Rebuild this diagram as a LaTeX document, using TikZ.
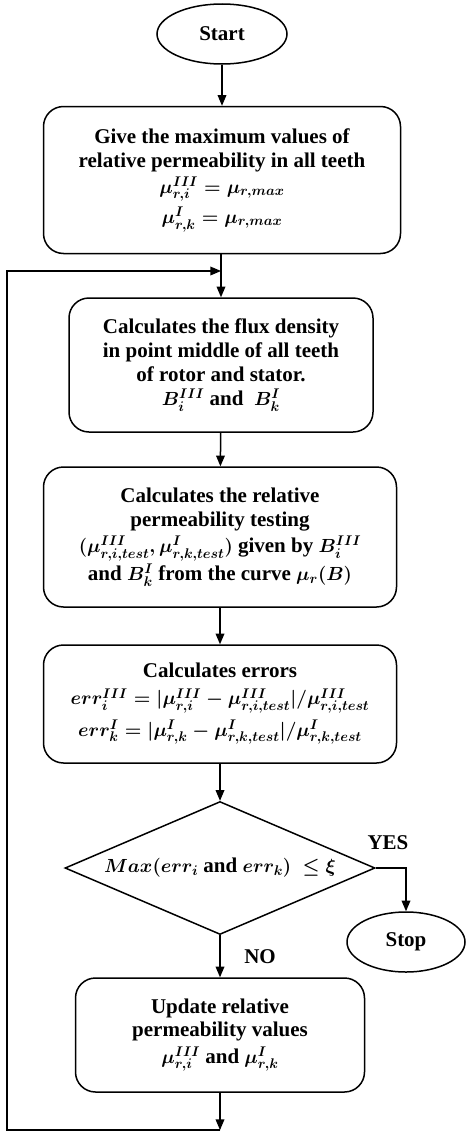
\RequirePackage{fix-cm}
\documentclass[tikz,border=0pt]{standalone}
\usepackage{fontspec}
\setmainfont{Liberation Serif}
\usepackage{amsmath}
\usepackage{tikz}
\usetikzlibrary{shapes,arrows,positioning,calc}
\DeclareMathSizes{21}{19}{14}{11}

\begin{document}
\begin{tikzpicture}[x=1pt, y=1pt, line width=1.5pt, >=triangle 45,
  font=\fontsize{21}{24}\selectfont\bfseries\boldmath]
  \tikzstyle{terminal} = [ellipse, draw, minimum width=130, minimum height=60, inner sep=0pt]
  \tikzstyle{process} = [rectangle, rounded corners=20pt, draw, align=center, inner sep=2pt]
  \tikzstyle{decision} = [diamond, draw, aspect=2.33, inner sep=0pt, minimum width=310, minimum height=133]
  \tikzstyle{answer} = [inner sep=0pt]

  \useasboundingbox (0,0) rectangle (466,-1135);

  \node[terminal] (start) at (222,-34) {Start};

  \node[process, minimum width=357, minimum height=147] (give) at (222,-180)
    {Give the maximum values of\\relative permeability in all teeth\\[2pt]
     $\mu_{r,i}^{III} = \mu_{r,max}$\\[4pt]$\mu_{r,k}^{I} = \mu_{r,max}$};

  \node[process, minimum width=304, minimum height=134] (flux) at (221,-365)
    {Calculates the flux density\\in point middle of all teeth\\of rotor and stator.\\
     $B_i^{III}$ and \ $B_k^{I}$};

  \node[process, minimum width=353, minimum height=140] (curve) at (220,-537)
    {Calculates the relative\\permeability testing\\[2pt]
     $(\mu_{r,i,test}^{III}, \mu_{r,k,test}^{I})$ given by $B_i^{III}$\\[2pt]
     and $B_k^{I}$ from the curve $\mu_r(B)$};

  \node[process, minimum width=353, minimum height=118] (err) at (220,-704)
    {Calculates errors\\[3pt]
     $err_i^{III} = |\mu_{r,i}^{III} - \mu_{r,i,test}^{III}|/\mu_{r,i,test}^{III}$\\[5pt]
     $err_k^{I} = |\mu_{r,k}^{I} - \mu_{r,k,test}^{I}|/\mu_{r,k,test}^{I}$};

  \node[decision] (check) at (220,-868)
    {$Max(err_i$ and $err_k)\ \le \xi$};

  \node[terminal, minimum width=118] (stop) at (406,-942) {Stop};

  \node[process, minimum width=289, minimum height=114] (update) at (220,-1035)
    {Update relative\\permeability values\\[2pt]
     $\mu_{r,i}^{III}$ and $\mu_{r,k}^{I}$};

  \node[answer] (yes) at (388,-843) {YES};
  \node[answer] (no) at (260,-957) {NO};

  \coordinate (join) at (221,-271);
  \coordinate (back) at (220,-1130);
  \coordinate (corner) at (7,-1130);

  \draw[->] (start) -- (give);
  \draw (give.south -| join) -- (join);
  \draw[->] (join) -- (flux);
  \draw[->] (flux) -- (curve);
  \draw[->] (curve) -- (err);
  \draw[->] (err) -- (check);
  \draw[->] (check.east) -| (stop.north);
  \draw[->] (check) -- (update);
  \draw[->] (update) -- (back);
  \draw[->] (back) -- (corner) |- (join);
\end{tikzpicture}
\end{document}
